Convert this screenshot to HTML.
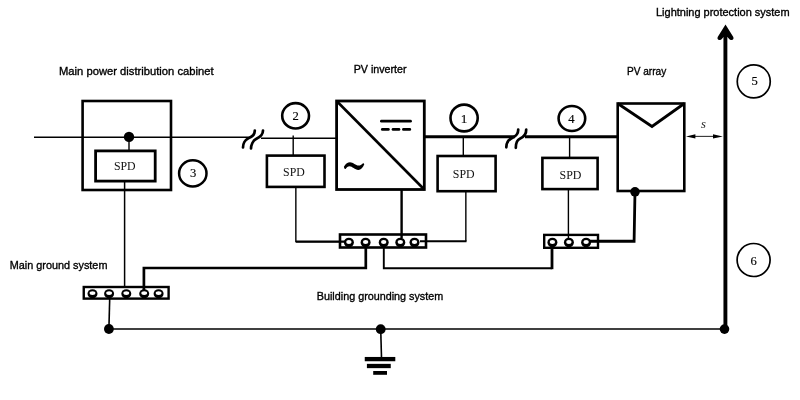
<!DOCTYPE html>
<html><head><meta charset="utf-8">
<style>
html,body{margin:0;padding:0;background:#fff;width:800px;height:400px;overflow:hidden}
svg{display:block;will-change:transform}
.lbl{font-family:"Liberation Sans",sans-serif;font-size:11.4px;fill:#000;stroke:#000;stroke-width:0.35px}
.spd{font-family:"Liberation Serif",serif;font-size:13.2px;fill:#111}
.num{font-family:"Liberation Serif",serif;font-size:12.6px;fill:#000;stroke:#000;stroke-width:0.15px}
</style></head>
<body>
<svg width="800" height="400" viewBox="0 0 800 400">
<rect width="800" height="400" fill="#fff"/>
<g fill="none" stroke="#000" stroke-linecap="butt">
  <!-- main thin line left -->
  <line x1="34" y1="137.3" x2="250" y2="137.3" stroke-width="1.4"/>
  <line x1="261" y1="138.2" x2="336" y2="138.2" stroke-width="1.4"/>
  <!-- break marks 1 -->
  <path d="M254.8 130.5 C255 136 250 137.5 248 138.5 C245 140 243 144 243 147.5" stroke-width="2.7" stroke-linecap="round"/>
  <path d="M263 130.5 C263 136 258 138 256 139 C253 140.5 251 145 251 148.5" stroke-width="2.7" stroke-linecap="round"/>
  <!-- cabinet -->
  <rect x="82.6" y="101" width="88.4" height="89" stroke-width="2.6"/>
  <rect x="95.6" y="150.9" width="59.6" height="30.2" stroke-width="2.8"/>
  <line x1="129" y1="137" x2="129" y2="150" stroke-width="1.4"/>
  <line x1="124.6" y1="182" x2="124.6" y2="288" stroke-width="1.5"/>
  <!-- circle 3 -->
  <ellipse cx="192.8" cy="173.4" rx="13.7" ry="13.1" stroke-width="2.5"/>
  <!-- inverter -->
  <rect x="336.6" y="101" width="87.7" height="88.5" stroke-width="2.8"/>
  <line x1="336.6" y1="101" x2="424.3" y2="189.5" stroke-width="2.6"/>
  <line x1="381.4" y1="121.2" x2="410.5" y2="121.2" stroke-width="2.8" stroke-linecap="round"/>
  <g stroke-width="2.7" stroke-linecap="round">
    <line x1="382.3" y1="129.4" x2="388.4" y2="129.4"/>
    <line x1="393" y1="129.4" x2="399" y2="129.4"/>
    <line x1="403.4" y1="129.4" x2="409.8" y2="129.4"/>
  </g>
  <!-- circle 2 -->
  <ellipse cx="295.6" cy="115.8" rx="13.4" ry="12.7" stroke-width="2.6"/>
  <line x1="293.2" y1="135.6" x2="293.2" y2="156" stroke-width="1.4"/>
  <rect x="266.9" y="155.6" width="57.6" height="31.3" stroke-width="2.6"/>
  <path d="M295.85 187 L295.85 241.6 L341 241.6" stroke-width="1.4"/>
  <line x1="295.85" y1="241.6" x2="346" y2="241.6" stroke-width="2.4"/>
  <!-- thick line inverter -> pv -->
  <line x1="424" y1="136.7" x2="515" y2="136.7" stroke-width="3"/>
  <line x1="525" y1="136.7" x2="617" y2="136.7" stroke-width="3"/>
  <path d="M518.2 129.5 C518.5 135.5 513.5 137.3 511.5 138.3 C508.5 139.8 506.3 143.5 506.3 147.3" stroke-width="2.7" stroke-linecap="round"/>
  <path d="M526.2 129.5 C526.5 135.5 521.8 137.8 519.8 138.7 C517 140 515.8 144.5 515.8 147.8" stroke-width="2.7" stroke-linecap="round"/>
  <!-- circle 1 -->
  <ellipse cx="464.1" cy="118" rx="13.6" ry="13.4" stroke-width="2.6"/>
  <line x1="463.3" y1="137" x2="463.3" y2="156" stroke-width="1.4"/>
  <rect x="437.6" y="156" width="58" height="35.2" stroke-width="2.6"/>
  <path d="M465.85 191 L465.85 241.25" stroke-width="1.4"/>
  <line x1="420" y1="241.25" x2="466.5" y2="241.25" stroke-width="2.2"/>
  <!-- inverter bottom -->
  <line x1="401.6" y1="190" x2="401.6" y2="238" stroke-width="2.4"/>
  <!-- circle 4 -->
  <ellipse cx="571.9" cy="118.5" rx="13.3" ry="12.5" stroke-width="2.6"/>
  <line x1="569.6" y1="137" x2="569.6" y2="157.5" stroke-width="1.4"/>
  <rect x="542.4" y="157.9" width="55.2" height="31.2" stroke-width="2.6"/>
  <line x1="568.4" y1="190" x2="568.4" y2="238" stroke-width="1.4"/>
  <!-- PV array -->
  <rect x="617.7" y="103.5" width="66.6" height="87.5" stroke-width="2.6"/>
  <path d="M617.7 103.5 L652 126.5 L684.3 103.5" stroke-width="2.8"/>
  <path d="M635 191 L634.1 241.25 L589 241.25" stroke-width="2.8"/>
  <!-- bars -->
  <rect x="83.75" y="287" width="84.85" height="11.6" stroke-width="2.4"/>
  <rect x="340" y="234.5" width="86" height="13" stroke-width="2.6"/>
  <rect x="544.2" y="234.9" width="53.8" height="12.9" stroke-width="2.4"/>
  <path d="M109.7 298.8 L108.9 329" stroke-width="1.6"/>
  <path d="M143.9 290 L143.9 268 L365.8 268 L365.8 244" stroke-width="2.7"/>
  <path d="M383.8 246 L383.8 268.2 L552 268.2" stroke-width="1.9"/>
  <line x1="552" y1="245" x2="552" y2="269.2" stroke-width="2.8"/>
  <!-- ground line -->
  <line x1="109" y1="329" x2="725" y2="329" stroke-width="1.6"/>
  <path d="M380.7 329 L381.5 357.5" stroke-width="1.6"/>
  <line x1="364.75" y1="359.1" x2="395.3" y2="359.1" stroke-width="4.3"/>
  <line x1="366.9" y1="366" x2="390.75" y2="366" stroke-width="4.3"/>
  <line x1="373.2" y1="372.9" x2="387" y2="372.9" stroke-width="3.8"/>
  <!-- lightning rod -->
  <line x1="725.4" y1="34" x2="725.4" y2="329" stroke-width="3.9"/>
  <!-- circles 5,6 -->
  <circle cx="753.75" cy="81.4" r="16.5" stroke-width="1.7"/>
  <circle cx="753.6" cy="260" r="16.5" stroke-width="1.7"/>
  <!-- s arrow -->
  <line x1="692" y1="136.4" x2="716" y2="136.4" stroke-width="1.1" stroke="#333"/>
</g>
<g fill="#000">
  <circle cx="129" cy="136.9" r="5.2"/>
  <circle cx="108.9" cy="329" r="4.9"/>
  <circle cx="380.7" cy="329.2" r="4.9"/>
  <circle cx="724.5" cy="329.1" r="4.8"/>
  <circle cx="635" cy="191.8" r="4.8"/>
  <path d="M725.5 24.5 L733.3 37 Q734.2 39.6 731.6 40 Q730 40.2 729 38.8 L727.4 37 L723.6 37 L722 38.8 Q721 40.2 719.4 40 Q716.8 39.6 717.7 37 Z"/>
  <path d="M686 136.4 L695.4 134.2 L695.4 138.6 Z"/>
  <path d="M722.8 136.4 L713 134.2 L713 138.6 Z"/>
  <path d="M343.9 166.8 C345.5 163.5 348 162.2 350 162.2 C353 162.2 356 165.6 358.5 165.6 C360.5 165.6 362 164.5 363.2 163 L364.3 164.3 C363 167.5 361 170 358.3 170 C355 170 352 166.3 349.7 166.3 C347.8 166.3 346.5 167.5 345.6 169 Q344.2 169.4 343.9 166.8 Z"/>
</g>
<!-- bar circles -->
<g>
<ellipse cx="92.5" cy="293.8" rx="5" ry="4.6" fill="#000"/><ellipse cx="92.5" cy="293.1" rx="2.9" ry="1.9" fill="#fff"/>
<ellipse cx="109.1" cy="293.8" rx="5" ry="4.6" fill="#000"/><ellipse cx="109.1" cy="293.1" rx="2.9" ry="1.9" fill="#fff"/>
<ellipse cx="126.3" cy="293.8" rx="5" ry="4.6" fill="#000"/><ellipse cx="126.3" cy="293.1" rx="2.9" ry="1.9" fill="#fff"/>
<ellipse cx="144.2" cy="293.8" rx="5" ry="4.6" fill="#000"/><ellipse cx="144.2" cy="293.1" rx="2.9" ry="1.9" fill="#fff"/>
<ellipse cx="158.6" cy="293.8" rx="5" ry="4.6" fill="#000"/><ellipse cx="158.6" cy="293.1" rx="2.9" ry="1.9" fill="#fff"/>
<ellipse cx="348.9" cy="242.5" rx="5" ry="4.8" fill="#000"/><ellipse cx="348.9" cy="242.1" rx="2.7" ry="2.0" fill="#fff"/>
<ellipse cx="365.6" cy="242.5" rx="5" ry="4.8" fill="#000"/><ellipse cx="365.6" cy="242.1" rx="2.7" ry="2.0" fill="#fff"/>
<ellipse cx="383.7" cy="242.5" rx="5" ry="4.8" fill="#000"/><ellipse cx="383.7" cy="242.1" rx="2.7" ry="2.0" fill="#fff"/>
<ellipse cx="400.3" cy="242.5" rx="5" ry="4.8" fill="#000"/><ellipse cx="400.3" cy="242.1" rx="2.7" ry="2.0" fill="#fff"/>
<ellipse cx="414.5" cy="242.5" rx="5" ry="4.8" fill="#000"/><ellipse cx="414.5" cy="242.1" rx="2.7" ry="2.0" fill="#fff"/>
<ellipse cx="552.4" cy="242.5" rx="5" ry="4.8" fill="#000"/><ellipse cx="552.4" cy="242.1" rx="2.7" ry="2.0" fill="#fff"/>
<ellipse cx="568.9" cy="242.5" rx="5" ry="4.8" fill="#000"/><ellipse cx="568.9" cy="242.1" rx="2.7" ry="2.0" fill="#fff"/>
<ellipse cx="586.1" cy="242.5" rx="5" ry="4.8" fill="#000"/><ellipse cx="586.1" cy="242.1" rx="2.7" ry="2.0" fill="#fff"/>
</g>
<g class="lbl">
  <text x="59" y="74.6" textLength="154.6" lengthAdjust="spacingAndGlyphs">Main power distribution cabinet</text>
  <text x="353.7" y="73" textLength="52.9" lengthAdjust="spacingAndGlyphs">PV inverter</text>
  <text x="626.9" y="75" textLength="39.3" lengthAdjust="spacingAndGlyphs">PV array</text>
  <text x="656" y="16.4" textLength="133.6" lengthAdjust="spacingAndGlyphs">Lightning protection system</text>
  <text x="9.75" y="269.1" textLength="97.7" lengthAdjust="spacingAndGlyphs">Main ground system</text>
  <text x="316.8" y="300" textLength="126.4" lengthAdjust="spacingAndGlyphs">Building grounding system</text>
</g>
<g class="spd">
  <text x="113.9" y="169.5" textLength="21.7" lengthAdjust="spacingAndGlyphs">SPD</text>
  <text x="283.1" y="175.6" textLength="21.7" lengthAdjust="spacingAndGlyphs">SPD</text>
  <text x="452.8" y="178.1" textLength="21.8" lengthAdjust="spacingAndGlyphs">SPD</text>
  <text x="559.5" y="179.3" textLength="21.9" lengthAdjust="spacingAndGlyphs">SPD</text>
</g>
<g class="num" text-anchor="middle">
  <text x="193.2" y="177.2">3</text>
  <text x="295.7" y="119.9">2</text>
  <text x="464" y="122.9" style="font-size:13.2px">1</text>
  <text x="571.4" y="122.6">4</text>
  <text x="754.75" y="85.2">5</text>
  <text x="753.75" y="265.2">6</text>
  <text x="703.5" y="128.1" style="font-style:italic;fill:#222;stroke:none">s</text>
</g>
</svg>
</body></html>
